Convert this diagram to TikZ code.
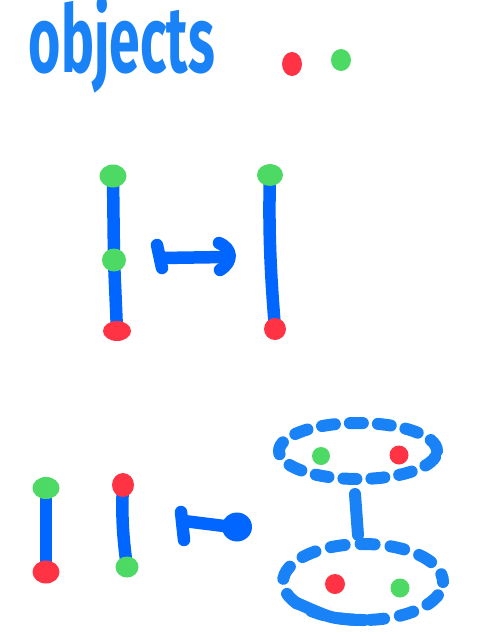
\documentclass[tikz,border=0pt]{standalone}
\usepackage{graphicx}
\usepackage{fontspec}
\setmainfont{Fira Sans}
\usetikzlibrary{shapes.geometric,backgrounds}
\definecolor{inkblue}{HTML}{0066FF}
\definecolor{penblue}{HTML}{1A82F7}
\definecolor{dotred}{HTML}{FF3344}
\definecolor{dotgreen}{HTML}{4CD964}
\tikzset{
  redpt/.style={ellipse,fill=dotred,inner sep=0pt,minimum width=24pt,minimum height=21pt},
  greenpt/.style={ellipse,fill=dotgreen,inner sep=0pt,minimum width=24pt,minimum height=21pt},
  seg/.style={draw=inkblue,line width=12.5pt,line cap=round,line join=round},
  solidpen/.style={draw=penblue,line width=12pt,line cap=round},
  dashring/.style={draw=penblue,line width=12pt,line cap=round,outer sep=0pt,dash pattern=on 13pt off 15pt},
}
\begin{document}
\begin{tikzpicture}[x=1pt,y=-1pt]
\useasboundingbox (0,0) rectangle (488,635);
% title
\node[text=penblue,inner sep=0pt] (title) at (122,45) {\resizebox{186pt}{76pt}{\bfseries objects}};
\node[redpt,minimum width=20pt,minimum height=24pt] (tr) at (292,64) {};
\node[greenpt,minimum width=20pt,minimum height=22pt] (tg) at (341,60) {};
% middle row
\node[greenpt,minimum width=27pt,minimum height=23pt] (mg1) at (113,176) {};
\node[greenpt,minimum width=24pt,minimum height=23pt] (mg2) at (114,260) {};
\node[redpt,minimum width=28pt,minimum height=20pt] (mr1) at (117,331) {};
\begin{scope}[on background layer]
\draw[seg] (mg1.center) -- (mg2.center) -- (mr1.center);
\end{scope}
\coordinate (mb1) at (157,245);
\coordinate (mb2) at (162,268);
\coordinate (ma1) at (161,258);
\coordinate (ma2) at (226,257);
\coordinate (mh1) at (219,243);
\coordinate (mh2) at (220,270);
\draw[seg] (mb1) -- (mb2);
\draw[seg] (ma1) -- (ma2);
\draw[seg] (mh1) .. controls (233,249) and (233,262) .. (mh2);
\node[greenpt,minimum width=26pt,minimum height=22pt] (mg3) at (270,175) {};
\node[redpt,minimum width=22pt,minimum height=22pt] (mr2) at (275,329) {};
\begin{scope}[on background layer]
\draw[seg] (mg3.center) .. controls (268,240) and (272,290) .. (mr2.center);
\end{scope}
% bottom row
\node[greenpt,minimum width=27pt,minimum height=22pt] (bg1) at (46,488) {};
\node[redpt,minimum width=27pt,minimum height=23pt] (br1) at (46,572) {};
\node[redpt,minimum width=22pt,minimum height=24pt] (br2) at (123,485) {};
\node[greenpt,minimum width=23pt,minimum height=21pt] (bg2) at (127,567) {};
\begin{scope}[on background layer]
\draw[seg] (bg1.center) -- (br1.center);
\draw[seg] (br2.center) .. controls (121,520) and (124,545) .. (bg2.center);
\end{scope}
\coordinate (bb1) at (181,512);
\coordinate (bb2) at (184,540);
\coordinate (ba1) at (184,521);
\coordinate (ba2) at (232,527);
\draw[seg] (bb1) -- (bb2);
\draw[seg] (ba1) -- (ba2);
\node[ellipse,fill=inkblue,inner sep=0pt,minimum width=30pt,minimum height=29pt] (blob) at (237,527) {};
% dashed groups
\node[dashring,ellipse,minimum width=158pt,minimum height=56pt] (upper) at (358,451) {};
\node[greenpt,minimum width=18pt,minimum height=18pt] (ug) at (321,456) {};
\node[redpt,minimum width=19pt,minimum height=19pt] (ur) at (399,455) {};
\node[dashring,ellipse,minimum width=160pt,minimum height=76pt,dash pattern=on 14pt off 16pt,dash phase=6pt] (lower) at (363,582) {};
\draw[solidpen] plot[smooth] coordinates {(lower.197) (lower.225) (lower.252) (lower.272)};
\node[redpt,minimum width=20pt,minimum height=20pt] (lr) at (335,584) {};
\node[greenpt,minimum width=19pt,minimum height=19pt] (lg) at (400,588) {};
\coordinate (uc) at (355,494);
\coordinate (lc) at (358,535);
\draw[solidpen] (uc) -- (lc);
\end{tikzpicture}
\end{document}
